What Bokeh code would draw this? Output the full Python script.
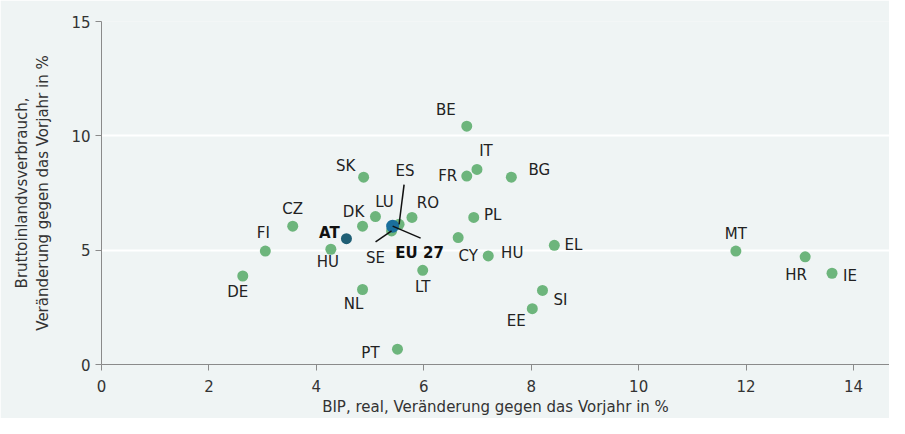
from bokeh.plotting import figure
from bokeh.models import ColumnDataSource, Range1d, FixedTicker
from bokeh.core.properties import value
from bokeh.embed import file_html
from bokeh.resources import INLINE

# ---- data ----
countries = ["BE", "IT", "FR", "BG", "SK", "ES", "LU", "RO", "PL", "DK", "CZ", "SE", "CY",
             "HU", "LT", "HU", "FI", "DE", "NL", "MT", "HR", "IE", "EL", "SI", "EE", "PT"]
gdp = [6.80, 6.99, 6.80, 7.63, 4.88, 5.54, 5.10, 5.78, 6.93, 4.86, 3.56, 5.40, 6.64,
       7.20, 5.98, 4.27, 3.05, 2.63, 4.86, 11.81, 13.10, 13.60, 8.43, 8.21, 8.02, 5.51]
energy = [10.42, 8.53, 8.24, 8.19, 8.19, 6.13, 6.47, 6.43, 6.43, 6.05, 6.05, 5.84, 5.55,
          4.75, 4.12, 5.04, 4.96, 3.87, 3.28, 4.96, 4.71, 3.99, 5.21, 3.24, 2.44, 0.67]
eu_name = "EU 27"
eu_gdp = [5.42]
eu_energy = [6.05]
at_name = "AT"
at_gdp = [4.56]
at_energy = [5.50]
x_ticks = [0, 2, 4, 6, 8, 10, 12, 14]
y_ticks = [0, 5, 10, 15]

# ---- label layout (pixel offsets, screen y downward) ----
label_dx = [-21, 9, -19, 28, -18, 0, 9, 16, 19, -9, 0, 0, 10,
            24, 0, -3, -2, -5, -9, 0, -9, 18, 19, 18, -16, -27]
label_dy = [-16, -18, 0, -7, -11, 0, -15, -14, -2, -14, -17, 0, 18,
            -3, 17, 13, -18, 16, 15, -17, 18, 3, 0, 10, 12, 4]
leader_labels = {"ES": ((5, -40), (6, -54)), "SE": ((-16, 11), (-16, 27))}
eu_leader = ((28, 12), (27, 27))

BG = "#eff4f4"
GREEN = "#6db57c"
FONT = "DejaVu Sans"

W, H = 889, 418
BL, BR, BT, BB = 101, 0, 21, 52
x0, x1 = 0, 14.67
y0, y1 = 0, 15
px_x = (W - BL - BR) / (x1 - x0)
px_y = (H - BT - BB) / (y1 - y0)

p = figure(width=W, height=H, output_backend="svg", toolbar_location=None,
           x_range=Range1d(x0, x1), y_range=Range1d(y0, y1),
           min_border_left=BL, min_border_right=BR, min_border_top=BT, min_border_bottom=BB)
p.background_fill_color = BG
p.border_fill_color = BG
p.outline_line_color = None

p.xgrid.visible = False
p.ygrid.grid_line_color = "white"
p.ygrid.grid_line_width = 2
p.ygrid.ticker = FixedTicker(ticks=y_ticks)

for ax in (p.xaxis[0], p.yaxis[0]):
    ax.axis_line_color = "#8a8a8a"
    ax.major_tick_line_color = "#8a8a8a"
    ax.minor_tick_line_color = None
    ax.major_tick_out = 6
    ax.major_tick_in = 0
    ax.major_label_text_font = FONT
    ax.major_label_text_font_size = "15px"
    ax.major_label_text_color = "#333333"
    ax.axis_label_text_font = FONT
    ax.axis_label_text_font_size = "15px"
    ax.axis_label_text_font_style = "normal"
    ax.axis_label_text_color = "#333333"
p.xaxis.ticker = FixedTicker(ticks=x_ticks)
p.yaxis.ticker = FixedTicker(ticks=y_ticks)
p.xaxis.axis_label = "BIP, real, Veränderung gegen das Vorjahr in %"
p.yaxis.axis_label = "Bruttoinlandvsverbrauch,\nVeränderung gegen das Vorjahr in %"
p.xaxis.major_label_standoff = 9
p.xaxis.axis_label_standoff = 3
p.yaxis.major_label_standoff = 5
p.yaxis.axis_label_standoff = 16

src = ColumnDataSource(dict(x=gdp, y=energy, name=countries,
                            dx=label_dx, dy=label_dy,
                            txt=["" if c in leader_labels else c for c in countries]))
p.scatter("x", "y", source=src, size=11, color=GREEN, line_color=None)
p.text("x", "y", text="txt", source=src, x_offset="dx", y_offset="dy",
       text_align="center", text_baseline="middle", text_font=value(FONT),
       text_font_size="15px", text_color="#222222")

p.scatter(eu_gdp, eu_energy, size=13, color="#1a6f9c", line_color=None)
p.scatter(at_gdp, at_energy, size=11, color="#1f5f75", line_color=None)

# leader lines + labels
lx0, ly0, lx1, ly1, tx, ty, tt = [], [], [], [], [], [], []
for name, ((ldx, ldy), (tdx, tdy)) in leader_labels.items():
    i = countries.index(name)
    bx, by = gdp[i], energy[i]
    lx0.append(bx); ly0.append(by)
    lx1.append(bx + ldx / px_x); ly1.append(by - ldy / px_y)
    tx.append(bx + tdx / px_x); ty.append(by - tdy / px_y); tt.append(name)
(ldx, ldy), (tdx, tdy) = eu_leader
lx0.append(eu_gdp[0]); ly0.append(eu_energy[0])
lx1.append(eu_gdp[0] + ldx / px_x); ly1.append(eu_energy[0] - ldy / px_y)
p.segment(lx0, ly0, lx1, ly1, line_color="#111111", line_width=1.5)
p.text(tx, ty, text=tt, text_align="center", text_baseline="middle",
       text_font=value(FONT), text_font_size="15px", text_color="#222222")
p.text([eu_gdp[0] + tdx / px_x], [eu_energy[0] - tdy / px_y], text=[eu_name],
       text_align="center", text_baseline="middle", text_font=value(FONT),
       text_font_size="15px", text_font_style="bold", text_color="#111111")
p.text(at_gdp, at_energy, text=[at_name], x_offset=-17, y_offset=-6,
       text_align="center", text_baseline="middle", text_font=value(FONT),
       text_font_size="15px", text_font_style="bold", text_color="#111111")

open("out.html", "w").write(file_html(p, INLINE))
